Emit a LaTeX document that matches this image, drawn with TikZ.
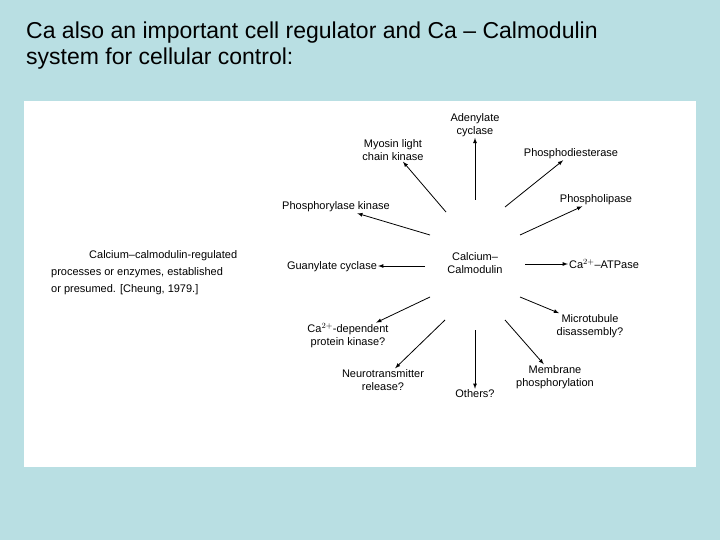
\documentclass[tikz,border=0pt]{standalone}
\usepackage{fontspec}
\setmainfont{Liberation Sans}
\begin{document}
\begin{tikzpicture}[x=1pt,y=-1pt,
  lab/.style={font=\fontsize{11}{13}\selectfont, align=center, inner sep=1pt},
  arr/.style={-latex, line width=0.8pt}]
\useasboundingbox (0,0) rectangle (720,540);
\fill[fill={rgb,255:red,185;green,223;blue,227}] (0,0) rectangle (720,540);
\fill[white] (24,101) rectangle (696,467);
\node[anchor=north west, align=left, inner sep=0pt, font=\fontsize{23}{26}\selectfont] (title) at (26,22)
  {Ca also an important cell regulator and Ca -- Calmodulin\\system for cellular control:};
\node[lab] (c) at (475,263) {Calcium--\\Calmodulin};
\node[lab] (ad) at (475,125) {Adenylate\\cyclase};
\node[lab] (my) at (393,150) {Myosin light\\chain kinase};
\node[lab] (pd) at (571,154) {Phosphodiesterase};
\node[lab] (pl) at (596,200) {Phospholipase};
\node[lab] (pk) at (336,207) {Phosphorylase kinase};
\node[lab] (gc) at (332,267) {Guanylate cyclase};
\node[lab] (at) at (604,264) {Ca$^{2+}$--ATPase};
\node[lab] (mt) at (590,326) {Microtubule\\disassembly?};
\node[lab] (cd) at (348,336) {Ca$^{2+}$-dependent\\protein kinase?};
\node[lab] (nt) at (383,380) {Neurotransmitter\\release?};
\node[lab] (ot) at (475,394) {Others?};
\node[lab] (mb) at (555,377) {Membrane\\phosphorylation};
\node[lab, anchor=west] (l1) at (88,256) {Calcium--calmodulin-regulated};
\node[lab, anchor=west, align=left, font=\fontsize{11}{17}\selectfont] (l2) at (50,281) {processes or enzymes, established\\or presumed. [Cheung, 1979.]};
\coordinate (s1) at (475,200); \draw[arr] (s1) -- (ad);
\coordinate (s2) at (446,212); \draw[arr] (s2) -- (my);
\coordinate (s3) at (505,207); \draw[arr] (s3) -- (pd);
\coordinate (s4) at (520,235); \draw[arr] (s4) -- (pl);
\coordinate (s5) at (430,235); \draw[arr] (s5) -- (pk);
\coordinate (s6) at (425,266); \draw[arr] (s6) -- (gc.east |- s6);
\coordinate (s7) at (525,264); \draw[arr] (s7) -- (at.west |- s7);
\coordinate (s8) at (520,297); \draw[arr] (s8) -- (mt);
\coordinate (s9) at (430,297); \draw[arr] (s9) -- (cd);
\coordinate (s10) at (445,320); \draw[arr] (s10) -- (nt);
\coordinate (s11) at (475,330); \draw[arr] (s11) -- (ot);
\coordinate (s12) at (505,320); \draw[arr] (s12) -- (mb);
\end{tikzpicture}
\end{document}
